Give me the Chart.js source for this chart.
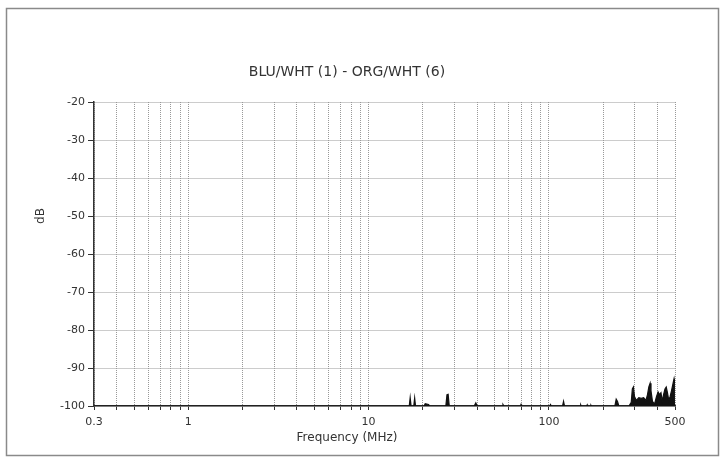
<!DOCTYPE html>
<html>
<head>
<meta charset="utf-8">
<script src="https://cdn.jsdelivr.net/npm/chart.js@4.4.0/dist/chart.umd.min.js"></script>
<style>
  html, body { margin: 0; padding: 0; background: #fff; }
</style>
</head>
<body>
<canvas id="chart" width="723" height="463"></canvas>
<script>
// frequency (MHz) and level (dB)
var freqs = [0.3, 16.8, 17.0, 17.2, 17.8, 18.0, 18.2, 20.3, 20.6, 21.5, 21.8,
  26.8, 27.2, 27.6, 28.0, 38.5, 39.3, 40, 55, 55.6, 56.2, 69.5, 70, 70.5,
  101, 102, 103, 119, 120.5, 122, 149, 150, 151, 162, 163, 164, 170, 171, 172,
  232, 236, 240, 244, 278, 286, 290, 294, 298, 305, 315, 325, 335, 345, 352,
  358, 364, 368, 375, 385, 395, 403, 410, 418, 425, 432, 440, 447, 454, 462,
  470, 478, 488, 494, 498, 500];
var levels = [-100, -100, -97.8, -100, -100, -97.9, -100, -100, -99.4, -99.6, -100,
  -100, -97.0, -96.9, -100, -100, -99.2, -100, -100, -99.6, -100, -100, -99.6, -100,
  -100, -99.6, -100, -100, -98.8, -100, -100, -99.7, -100, -100, -99.7, -100, -100, -99.8, -100,
  -100, -98.2, -98.8, -100, -100, -99, -95.5, -95.0, -97.5, -98.5, -97.8, -98.0, -97.8, -98.5, -97,
  -95, -94.0, -96, -98.8, -99.5, -97.5, -96.3, -97, -96.5, -98.8, -97, -95.5, -95.0, -96.5, -98.5,
  -97.5, -96, -94, -92.8, -94, -100];

var xGrid = [0.3, 0.4, 0.5, 0.6, 0.7, 0.8, 0.9, 1, 2, 3, 4, 5, 6, 7, 8, 9,
  10, 20, 30, 40, 50, 60, 70, 80, 90, 100, 200, 300, 400, 500];
var xLabels = [0.3, 1, 10, 100, 500];
var yMin = -100, yMax = -20, yStep = 10;

var chartTitle = "BLU/WHT (1) - ORG/WHT (6)";
var xTitle = "Frequency (MHz)";
var yTitle = "dB";

var points = freqs.map(function (f, i) { return { x: f, y: levels[i] }; });

var fontFamily = "'DejaVu Sans', sans-serif";
var textColor = "#333";

var decor = {
  id: "decor",
  beforeDraw: function (chart) {
    var ctx = chart.ctx;
    ctx.save();
    ctx.fillStyle = "#fff";
    ctx.fillRect(0, 0, chart.width, chart.height);
    ctx.strokeStyle = "#8a8a8a";
    ctx.lineWidth = 1.5;
    ctx.strokeRect(6.5, 8.5, 712, 447);
    ctx.restore();
  },
  afterDraw: function (chart) {
    var ctx = chart.ctx;
    ctx.save();
    ctx.fillStyle = textColor;
    ctx.textAlign = "center";
    ctx.textBaseline = "middle";
    ctx.font = "14px " + fontFamily;
    ctx.fillText(chartTitle, 347, 72);
    ctx.font = "12px " + fontFamily;
    ctx.fillText(xTitle, 347, 438);
    ctx.translate(41, 216);
    ctx.rotate(-Math.PI / 2);
    ctx.fillText(yTitle, 0, 0);
    ctx.restore();
  }
};

new Chart(document.getElementById("chart"), {
  type: "line",
  data: {
    datasets: [
      {
        data: points,
        borderColor: "#111",
        backgroundColor: "#111",
        borderWidth: 1.2,
        pointRadius: 0,
        tension: 0,
        fill: "start",
      },
    ],
  },
  options: {
    responsive: false,
    animation: false,
    layout: { padding: { left: 0, top: 102, right: 48, bottom: 0 } },
    plugins: {
      legend: { display: false },
      title: { display: false },
      tooltip: { enabled: false },
    },
    scales: {
      x: {
        type: "logarithmic",
        min: 0.3,
        max: 500,
        afterBuildTicks: function (scale) {
          scale.ticks = xGrid.map(function (v) { return { value: v }; });
        },
        afterFit: function (scale) { scale.height = 57; },
        grid: { color: "#999999", tickColor: "#333", tickLength: 4 },
        border: { color: "#333", width: 1.5, dash: [1, 1] },
        ticks: {
          autoSkip: false,
          maxRotation: 0,
          color: textColor,
          padding: 6,
          font: { family: fontFamily, size: 11 },
          callback: function (value) {
            return xLabels.indexOf(value) >= 0 ? String(value) : "";
          },
        },
      },
      y: {
        min: yMin,
        max: yMax,
        afterFit: function (scale) { scale.width = 94; },
        grid: { color: "#999999", tickColor: "#333", tickLength: 6 },
        border: { color: "#333", width: 1.5, dash: [1, 1] },
        ticks: {
          stepSize: yStep,
          color: textColor,
          padding: 3,
          font: { family: fontFamily, size: 11 },
        },
      },
    },
  },
  plugins: [decor],
});
</script>
</body>
</html>
